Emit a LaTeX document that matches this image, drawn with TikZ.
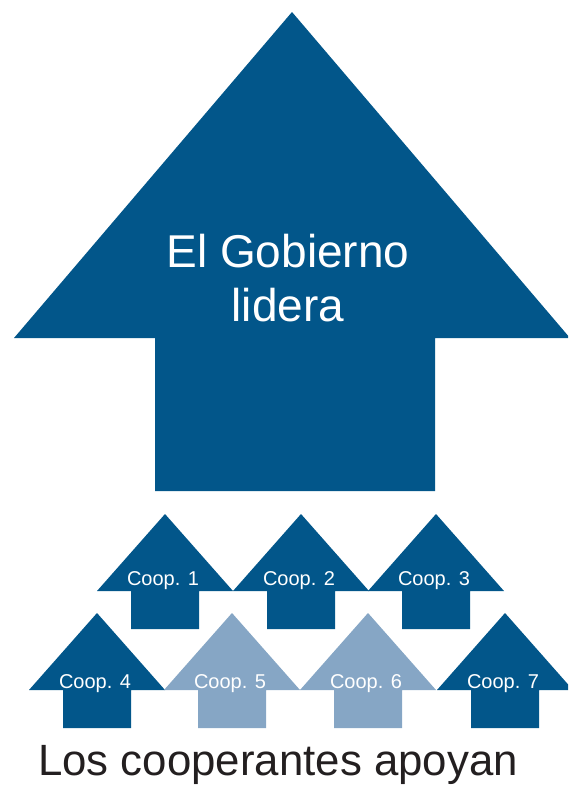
\documentclass[tikz,border=0pt]{standalone}
\usepackage{fontspec}
\setmainfont{Liberation Sans}
\definecolor{darkblue}{HTML}{02568A}
\definecolor{lightblue}{HTML}{86A6C5}
\definecolor{textgrey}{HTML}{231F20}
\newcommand\coarrow[5]{%
  \fill[#3] (#1,#2) -- (#1+68,#2+77) -- (#1+34,#2+77) -- (#1+34,#2+115)
     -- (#1-34,#2+115) -- (#1-34,#2+77) -- (#1-68,#2+77) -- cycle;
  \node[cooplabel] (c#4) at (#1-2,#2+#5) {Coop. #4};
}
\begin{document}
\begin{tikzpicture}[x=1pt,y=-1pt,
  cooplabel/.style={text=white,anchor=base,inner sep=0pt,font=\fontsize{20}{23}\selectfont},
  bigtext/.style={text=white,anchor=base,inner sep=0pt,font=\fontsize{46}{53}\selectfont}]
\useasboundingbox (0,0) rectangle (568,787);
\begin{scope}
\clip (0,0) rectangle (568,787);
\fill[darkblue] (292,12) -- (570,338) -- (435,338) -- (435,491) -- (155,491)
   -- (155,338) -- (14,338) -- cycle;
\node[bigtext] (gov1) at (288,267) {El Gobierno};
\node[bigtext] (gov2) at (288,321) {lidera};
\coarrow{165}{514}{darkblue}{1}{71}
\coarrow{301}{514}{darkblue}{2}{71}
\coarrow{436}{514}{darkblue}{3}{71}
\coarrow{97}{613}{darkblue}{4}{75}
\coarrow{232}{613}{lightblue}{5}{75}
\coarrow{368}{613}{lightblue}{6}{75}
\coarrow{505}{613}{darkblue}{7}{75}
\end{scope}
\node[anchor=base west,inner sep=0pt,text=textgrey,font=\fontsize{43.8}{48}\selectfont] (coop) at (38,775) {Los cooperantes apoyan};
\end{tikzpicture}
\end{document}
